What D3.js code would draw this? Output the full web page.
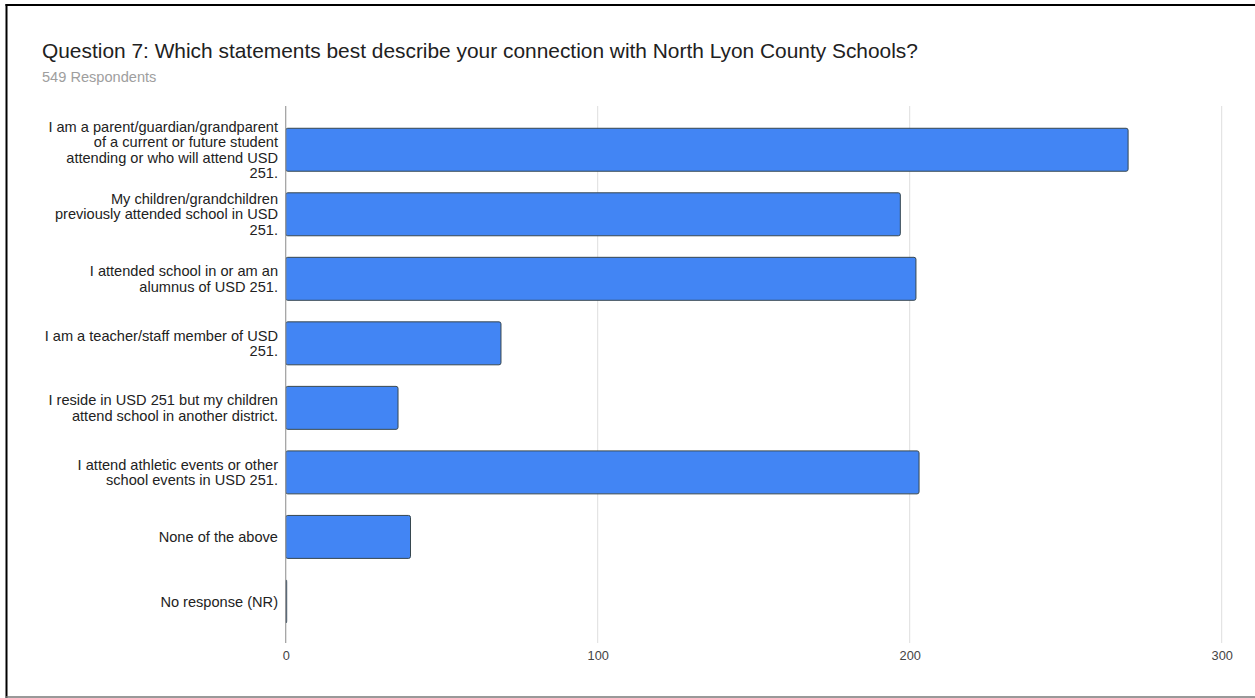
<!DOCTYPE html>
<html>
<head>
<meta charset="utf-8">
<script src="https://cdn.jsdelivr.net/npm/d3@7"></script>
<style>
  html, body { margin: 0; padding: 0; background: #fff; }
  svg { display: block; }
  text { font-family: "Liberation Sans", Arial, sans-serif; }
</style>
</head>
<body>
<svg id="chart" width="1255" height="698"></svg>
<script>
const titleText = "Question 7: Which statements best describe your connection with North Lyon County Schools?";
const subtitleText = "549 Respondents";
const categories = [
  "I am a parent/guardian/grandparent of a current or future student attending or who will attend USD 251.",
  "My children/grandchildren previously attended school in USD 251.",
  "I attended school in or am an alumnus of USD 251.",
  "I am a teacher/staff member of USD 251.",
  "I reside in USD 251 but my children attend school in another district.",
  "I attend athletic events or other school events in USD 251.",
  "None of the above",
  "No response (NR)"
];
const values = [270, 197, 202, 69, 36, 203, 40, 0];
const xTicks = [0, 100, 200, 300];

const svg = d3.select("#chart");

// frame
svg.append("line").attr("x1", 6.5).attr("x2", 6.5).attr("y1", 4).attr("y2", 698).attr("stroke", "#000").attr("stroke-width", 2);
svg.append("line").attr("x1", 5.5).attr("x2", 1255).attr("y1", 5).attr("y2", 5).attr("stroke", "#000").attr("stroke-width", 2);
svg.append("line").attr("x1", 6).attr("x2", 1255).attr("y1", 697).attr("y2", 697).attr("stroke", "#777").attr("stroke-width", 1.5);

svg.append("text").attr("x", 42).attr("y", 57.5).attr("font-size", 20.9).attr("fill", "#212121").text(titleText);
svg.append("text").attr("x", 42).attr("y", 81.5).attr("font-size", 14.6).attr("fill", "#9e9e9e").text(subtitleText);

const x = d3.scaleLinear().domain([0, 300]).range([285.7, 1221.7]);
const y = d3.scaleBand().domain(categories).range([117.5, 633.7]).paddingInner(0.334).paddingOuter(0.167);

const gridTop = 106, gridBottom = 643;

// gridlines
svg.append("g").selectAll("line").data(xTicks.filter(d => d !== 0)).join("line")
  .attr("x1", d => x(d)).attr("x2", d => x(d))
  .attr("y1", gridTop).attr("y2", gridBottom)
  .attr("stroke", "#dedede").attr("stroke-width", 1);

// x axis tick labels
const xAxis = d3.axisBottom(x).tickValues(xTicks).tickSize(0).tickPadding(0);
const gx = svg.append("g").attr("transform", `translate(0,${651})`).call(xAxis);
gx.select(".domain").remove();
gx.selectAll("text").attr("font-size", 12.8).attr("fill", "#444").attr("font-family", "Liberation Sans, Arial, sans-serif");

// bars
svg.append("g").selectAll("rect").data(values).join("rect")
  .attr("x", x(0))
  .attr("y", (d, i) => y(categories[i]))
  .attr("width", d => Math.max(x(d) - x(0), 1))
  .attr("height", y.bandwidth())
  .attr("rx", 2).attr("ry", 2)
  .attr("fill", "#4285f4")
  .attr("stroke", "#37474f")
  .attr("stroke-width", 1);

// baseline axis
svg.append("line").attr("x1", x(0)).attr("x2", x(0)).attr("y1", gridTop).attr("y2", gridBottom)
  .attr("stroke", "#9e9e9e").attr("stroke-width", 1.2);

// y labels with wrapping
const labelSize = 14.6;
const measurer = svg.append("text").attr("font-size", labelSize).attr("visibility", "hidden");
function wrap(str, maxW) {
  const words = str.split(" ");
  const lines = [];
  let cur = "";
  for (const w of words) {
    const test = cur ? cur + " " + w : w;
    measurer.text(test);
    if (measurer.node().getComputedTextLength() > maxW && cur) {
      lines.push(cur);
      cur = w;
    } else cur = test;
  }
  if (cur) lines.push(cur);
  return lines;
}
const lineH = 15.6;
const labels = svg.append("g");
categories.forEach(c => {
  const lines = wrap(c, 234.5);
  const cy = y(c) + y.bandwidth() / 2;
  const first = cy - (lines.length - 1) * lineH / 2 + 5.2;
  const t = labels.append("text").attr("text-anchor", "end").attr("font-size", labelSize).attr("fill", "#222");
  lines.forEach((l, i) => {
    t.append("tspan").attr("x", 278).attr("y", first + i * lineH).text(l);
  });
});
measurer.remove();
</script>
</body>
</html>
